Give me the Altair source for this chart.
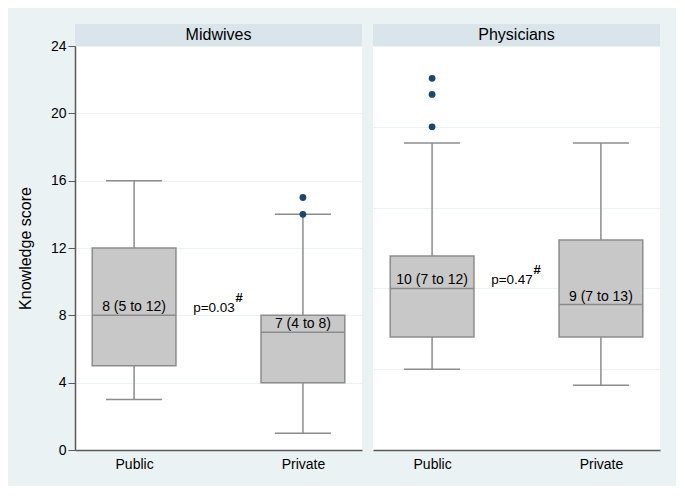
import json
import altair as alt
import pandas as pd

# ---- data ----
groups = ["Public", "Private"]
group_pos = [0, 1]
panel_titles = ["Midwives", "Physicians"]

mid_low = [3, 1]
mid_q1 = [5, 4]
mid_med = [8, 7]
mid_q3 = [12, 8]
mid_high = [16, 14]
mid_labels = ["8 (5 to 12)", "7 (4 to 8)"]
mid_out_group = ["Private", "Private"]
mid_out_val = [15, 14]

phy_low = [5, 4]
phy_q1 = [7, 7]
phy_med = [10, 9]
phy_q3 = [12, 13]
phy_high = [19, 19]
phy_labels = ["10 (7 to 12)", "9 (7 to 13)"]
phy_out_group = ["Public", "Public", "Public"]
phy_out_val = [23, 22, 20]

p_texts = ["p=0.03", "p=0.47"]
p_sup = "#"
p_x = [0.35, 0.35]
p_sup_x = [0.6, 0.6]
p_y = [8.2, 10.3]

y_domains = [[0, 24], [0, 25]]
y_ticks = [[0, 4, 8, 12, 16, 20, 24], [0, 5, 10, 15, 20, 25]]

# ---- style ----
FONT = "Liberation Sans"
BG = "#eaf2f3"
STRIP = "#d9e5ea"
BOX_FILL = "#c8c8c8"
LINE = "#8c8c8c"
AXIS = "#5a5a5a"
DOT = "#1a476f"
W, H = 287, 404
XDOM = [-0.35, 1.35]
HALF_BOX = 0.248
HALF_CAP = 0.166

label_expr = json.dumps(groups) + "[datum.value]"


def panel(idx, low, q1, med, q3, high, labels, out_group, out_val):
    box = pd.DataFrame({"group": groups, "pos": group_pos, "low": low, "q1": q1,
                        "med": med, "q3": q3, "high": high, "label": labels})
    caps = pd.DataFrame({"pos": group_pos + group_pos, "val": low + high})
    outs = pd.DataFrame({"pos": [group_pos[groups.index(g)] for g in out_group],
                         "val": out_val})
    ptxt = pd.DataFrame({"x": [p_x[idx]], "xs": [p_sup_x[idx]], "y": [p_y[idx]],
                         "t": [p_texts[idx]], "s": [p_sup]})

    xscale = alt.Scale(domain=XDOM, nice=False, zero=False)
    yscale = alt.Scale(domain=y_domains[idx], nice=False, zero=False)
    xaxis = alt.Axis(values=group_pos, labelExpr=label_expr, title=None, grid=False,
                     ticks=False, tickSize=0, labelPadding=7, domainColor=AXIS,
                     domainWidth=1.5, labelFontSize=14, labelColor="#000000",
                     labelFont=FONT)
    if idx == 0:
        yaxis = alt.Axis(values=y_ticks[idx], title="Knowledge score", grid=True,
                         gridColor=BG, gridWidth=1, domainColor=AXIS, domainWidth=1.5,
                         tickColor=AXIS, tickSize=7, labelPadding=2, labelFontSize=14,
                         labelColor="#000000", labelFont=FONT, titleFont=FONT,
                         titleFontSize=16, titleFontWeight="normal", titleColor="#000000",
                         titlePadding=17)
    else:
        yaxis = alt.Axis(values=y_ticks[idx], title=None, grid=True, gridColor=BG,
                         gridWidth=1, labels=False, ticks=False, domain=False)

    base = alt.Chart(box)
    whisk_lo = base.mark_rule(color=LINE, strokeWidth=1.5).encode(
        x=alt.X("pos:Q", scale=xscale, axis=xaxis),
        y=alt.Y("low:Q", scale=yscale, axis=yaxis), y2="q1:Q")
    whisk_hi = base.mark_rule(color=LINE, strokeWidth=1.5).encode(
        x=alt.X("pos:Q", scale=xscale, axis=xaxis),
        y=alt.Y("q3:Q", scale=yscale, axis=yaxis), y2="high:Q")
    cap = alt.Chart(caps).transform_calculate(
        xl=f"datum.pos - {HALF_CAP}", xr=f"datum.pos + {HALF_CAP}"
    ).mark_rule(color=LINE, strokeWidth=1.5).encode(
        x=alt.X("xl:Q", scale=xscale, axis=xaxis), x2="xr:Q",
        y=alt.Y("val:Q", scale=yscale, axis=yaxis))
    rect = base.transform_calculate(
        bl=f"datum.pos - {HALF_BOX}", br=f"datum.pos + {HALF_BOX}"
    ).mark_rect(fill=BOX_FILL, stroke=LINE, strokeWidth=1.5).encode(
        x=alt.X("bl:Q", scale=xscale, axis=xaxis), x2="br:Q",
        y=alt.Y("q1:Q", scale=yscale, axis=yaxis), y2="q3:Q")
    median = base.transform_calculate(
        bl=f"datum.pos - {HALF_BOX}", br=f"datum.pos + {HALF_BOX}"
    ).mark_rule(color=LINE, strokeWidth=1.5).encode(
        x=alt.X("bl:Q", scale=xscale, axis=xaxis), x2="br:Q",
        y=alt.Y("med:Q", scale=yscale, axis=yaxis))
    mlabel = base.mark_text(font=FONT, fontSize=14, color="#000000", dy=-4,
                            baseline="alphabetic", align="center").encode(
        x=alt.X("pos:Q", scale=xscale, axis=xaxis),
        y=alt.Y("med:Q", scale=yscale, axis=yaxis), text="label:N")
    dots = alt.Chart(outs).mark_circle(color=DOT, size=46, opacity=1).encode(
        x=alt.X("pos:Q", scale=xscale, axis=xaxis),
        y=alt.Y("val:Q", scale=yscale, axis=yaxis))
    ptext = alt.Chart(ptxt).mark_text(font=FONT, fontSize=13.5, color="#000000",
                                      align="left", baseline="alphabetic").encode(
        x=alt.X("x:Q", scale=xscale, axis=xaxis),
        y=alt.Y("y:Q", scale=yscale, axis=yaxis), text="t:N")
    psup = alt.Chart(ptxt).mark_text(font=FONT, fontSize=13, color="#000000",
                                     align="left", baseline="alphabetic", dy=-10,
                                     fontWeight="bold").encode(
        x=alt.X("xs:Q", scale=xscale, axis=xaxis),
        y=alt.Y("y:Q", scale=yscale, axis=yaxis), text="s:N")
    strip = alt.Chart(ptxt).mark_rect(fill=STRIP).encode(
        x=alt.value(0), x2=alt.value(W), y=alt.value(-22), y2=alt.value(0))
    strip_text = alt.Chart(ptxt).mark_text(font=FONT, fontSize=16, color="#000000",
                                           baseline="middle", align="center").encode(
        x=alt.value(W / 2), y=alt.value(-11), text=alt.value(panel_titles[idx]))

    return alt.layer(strip, strip_text, whisk_lo, whisk_hi, cap, rect, median,
                     mlabel, dots, ptext, psup).properties(width=W, height=H)


left = panel(0, mid_low, mid_q1, mid_med, mid_q3, mid_high, mid_labels,
             mid_out_group, mid_out_val)
right = panel(1, phy_low, phy_q1, phy_med, phy_q3, phy_high, phy_labels,
              phy_out_group, phy_out_val)

chart = alt.hconcat(left, right, spacing=11).properties(
    background=BG,
    padding={"left": 9, "top": 16, "right": 16, "bottom": 15},
).configure_view(stroke=None, fill="white")

chart.save("out.html", embed_options={"renderer": "svg", "actions": False})
